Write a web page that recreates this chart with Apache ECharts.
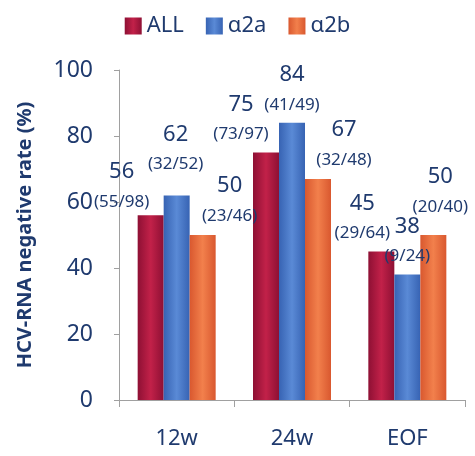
<!DOCTYPE html>
<html>
<head>
<meta charset="utf-8">
<script src="https://cdn.jsdelivr.net/npm/echarts@6/dist/echarts.min.js"></script>
<style>
  html, body { margin: 0; padding: 0; background: #fff; }
  #chart { width: 475px; height: 456px; }
</style>
</head>
<body>
<div id="chart"></div>
<script>
// data
var categories = ['12w', '24w', 'EOF'];
var allVals = [56, 75, 45];
var a2aVals = [62, 84, 38];
var a2bVals = [50, 67, 50];
var allFrac = ['(55/98)', '(73/97)', '(29/64)'];
var a2aFrac = ['(32/52)', '(41/49)', '(9/24)'];
var a2bFrac = ['(23/46)', '(32/48)', '(20/40)'];

// label nudges (style only), per series per category
var allOffsets = [[-29, 7], [-25, 2], [-19, 2]];
var a2aOffsets = [[-1, -11], [0, 2], [0, 2]];
var a2bOffsets = [[27, 1], [26, 1], [7, -8]];

var textColor = '#1f3a6e';
var font = 'Noto Sans';

function grad(edge, mid) {
  return new echarts.graphic.LinearGradient(0, 0, 1, 0, [
    { offset: 0, color: edge },
    { offset: 0.5, color: mid },
    { offset: 1, color: edge }
  ]);
}

function buildData(vals, fracs, offs) {
  var out = [];
  for (var i = 0; i < vals.length; i++) {
    out.push({
      value: vals[i],
      frac: fracs[i],
      label: { offset: offs[i] }
    });
  }
  return out;
}

var labelCfg = {
  show: true,
  position: 'top',
  distance: 5,
  formatter: function (p) {
    return '{v|' + p.value + '}\n{f|' + p.data.frac + '}';
  },
  rich: {
    v: { fontSize: 22, lineHeight: 30, color: textColor, fontFamily: font },
    f: { fontSize: 17, lineHeight: 30, color: textColor, fontFamily: font }
  }
};

function makeSeries(name, vals, fracs, offs, edge, mid) {
  return {
    name: name,
    type: 'bar',
    barWidth: 26,
    barGap: '0%',
    itemStyle: { color: grad(edge, mid) },
    label: labelCfg,
    data: buildData(vals, fracs, offs)
  };
}

var option = {
  animation: false,
  color: ['#b01a42', '#4a7ccb', '#ec6e3e'],
  legend: {
    top: 10,
    left: 'center',
    itemWidth: 17,
    itemHeight: 17,
    itemGap: 22,
    icon: 'rect',
    textStyle: { fontSize: 22, color: textColor, fontFamily: font }
  },
  grid: { left: 119, right: 10, top: 70, bottom: 56 },
  xAxis: {
    type: 'category',
    data: categories,
    axisLine: { lineStyle: { color: '#a0a0a0' } },
    axisTick: { show: true, length: 7, lineStyle: { color: '#a0a0a0' } },
    axisLabel: { margin: 28, fontSize: 22, color: textColor, fontFamily: font }
  },
  yAxis: {
    type: 'value',
    min: 0,
    max: 100,
    interval: 20,
    name: 'HCV-RNA negative rate (%)',
    nameLocation: 'middle',
    nameGap: 84,
    nameTextStyle: { fontSize: 20, fontWeight: 'bold', color: textColor, fontFamily: font },
    axisLine: { show: true, lineStyle: { color: '#a0a0a0' } },
    axisTick: { show: true, length: 5, lineStyle: { color: '#a0a0a0' } },
    axisLabel: { margin: 26, fontSize: 23, color: textColor, fontFamily: font },
    splitLine: { show: false }
  },
  series: [
    makeSeries('ALL', allVals, allFrac, allOffsets, '#8e1034', '#c22149'),
    makeSeries('α2a', a2aVals, a2aFrac, a2aOffsets, '#3763b3', '#5a8ad6'),
    makeSeries('α2b', a2bVals, a2bFrac, a2bOffsets, '#d9582f', '#f2804c')
  ]
};

var myChart = echarts.init(document.getElementById('chart'));
myChart.setOption(option);
</script>
</body>
</html>
